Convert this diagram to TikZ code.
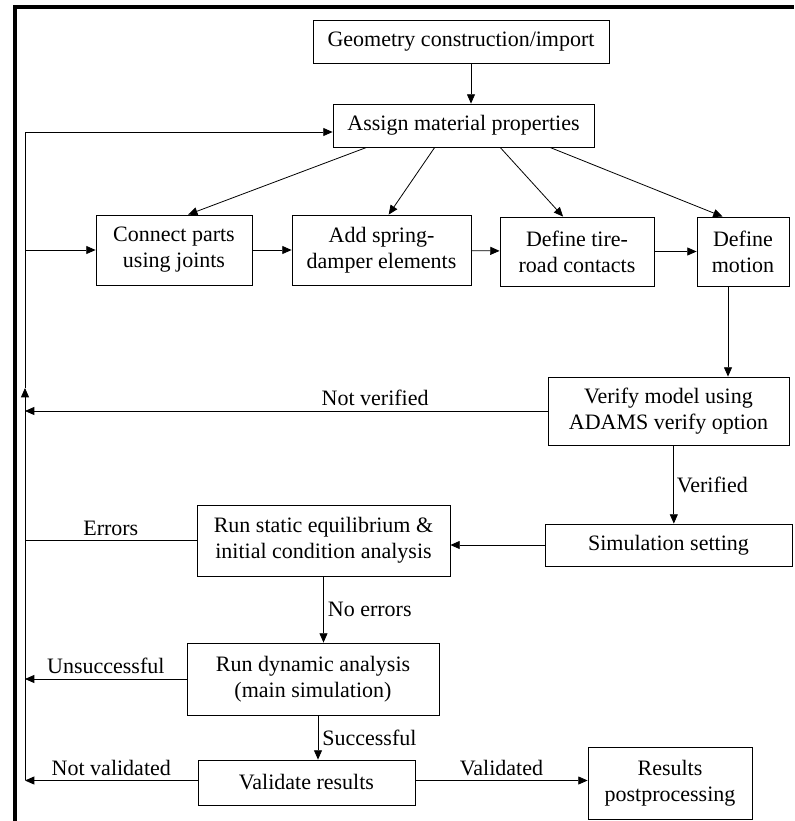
\documentclass[tikz,border=0pt]{standalone}
\usepackage{fontspec}
\setmainfont{Liberation Serif}
\usetikzlibrary{
	arrows.meta,
	calc,
	positioning
}

\begin{document}
\begin{tikzpicture}[x=0.75pt, y=-0.75pt,
		procbox/.style={draw, line width=0.6pt, inner sep=0pt, align=center, font=\fontsize{16.5}{19.5}\selectfont},
		arr/.style={line width=0.6pt, -{Triangle[length=7pt, width=6pt]}},
		lbl/.style={font=\fontsize{16.5}{19.5}\selectfont}
	]
		\useasboundingbox (0,0) rectangle (794,821);
		
		% frame
		\draw[line width=3pt] (15,821) -- (15,7) -- (794,7);
		
		% boxes
		\node[procbox, minimum width=222pt, minimum height=32.25pt] (geo) at (461,42) {Geometry construction/import};
		\node[procbox, minimum width=195.75pt, minimum height=32.25pt] (assign) at (463.5,125.5) {Assign material properties};
		\node[procbox, minimum width=117pt, minimum height=52.5pt] (connect) at (174,250) {Connect parts\\using joints};
		\node[procbox, minimum width=134.25pt, minimum height=52.5pt] (spring) at (381.5,250) {Add spring-\\damper elements};
		\node[procbox, minimum width=115.5pt, minimum height=51.75pt] (tire) at (577,251.5) {Define tire-\\road contacts};
		\node[procbox, minimum width=69pt, minimum height=51.75pt] (motion) at (743,251.5) {Define\\motion};
		\node[procbox, minimum width=180.75pt, minimum height=51pt] (verify) at (668.5,411) {Verify model using\\ADAMS verify option};
		\node[procbox, minimum width=185.25pt, minimum height=31.5pt] (sim) at (668.5,545) {Simulation setting};
		\node[procbox, minimum width=189.75pt, minimum height=53.25pt] (static) at (323.5,540.5) {Run static equilibrium \&\\initial condition analysis};
		\node[procbox, minimum width=189pt, minimum height=54pt] (dynamic) at (313,679) {Run dynamic analysis\\(main simulation)};
		\node[procbox, minimum width=162.75pt, minimum height=33.75pt] (validate) at (306.5,782.5) {Validate results};
		\node[procbox, minimum width=123pt, minimum height=54pt] (post) at (670,783) {Results\\postprocessing};
		
		% return line on the left
		\coordinate (lbot) at (25,780);
		\coordinate (lup) at (25,388);
		\coordinate (ltop) at (25,132);
		
		\draw[arr] ([xshift=7.5pt]geo.south) -- ([xshift=7.5pt]geo.south |- assign.north);
		\draw[arr] ($(assign.south west)!0.13!(assign.south east)$) -- ($(connect.north west)!0.59!(connect.north east)$);
		\draw[arr] ($(assign.south west)!0.39!(assign.south east)$) -- ($(spring.north west)!0.54!(spring.north east)$);
		\draw[arr] ($(assign.south west)!0.64!(assign.south east)$) -- ($(tire.north west)!0.41!(tire.north east)$);
		\draw[arr] ($(assign.south west)!0.83!(assign.south east)$) -- ($(motion.north west)!0.28!(motion.north east)$);
		
		\draw[arr] (connect) -- (spring);
		\draw[arr] (spring) -- (tire);
		\draw[arr] (tire) -- (motion);
		\draw[arr] ([xshift=-11.25pt]motion.south) -- ([xshift=-11.25pt]motion.south |- verify.north);
		\draw[arr] ([xshift=4pt]verify.south) -- ([xshift=4pt]verify.south |- sim.north) node[lbl, midway, right, inner sep=2pt] {Verified};
		\draw[arr] (sim.west) -- (sim.west -| static.east);
		\draw[arr] (static.south) -- (static.south |- dynamic.north) node[lbl, midway, right, inner sep=3pt] {No errors};
		\draw[arr] ([xshift=3.75pt]dynamic.south) -- ([xshift=3.75pt]dynamic.south |- validate.north) node[lbl, midway, right, inner sep=3pt] {Successful};
		\draw[arr] ([yshift=1.5pt]validate.east) -- ([yshift=1.5pt]validate.east -| post.west) node[lbl, midway, above] {Validated};
		
		\draw[arr] (verify.west) -- (verify.west -| lbot) node[lbl, pos=0.33, above] {Not verified};
		\draw (static.west) -- (static.west -| lbot) node[lbl, midway, above] {Errors};
		\draw[arr] (dynamic.west) -- (dynamic.west -| lbot) node[lbl, midway, above] {Unsuccessful};
		\draw[arr] ([yshift=1.5pt]validate.west) -- ([yshift=1.5pt]validate.west -| lbot) node[lbl, midway, above] {Not validated};
		
		\draw[arr] (lbot) -- (lup);
		\draw[arr] (lup) -- (ltop) -- (ltop -| assign.west);
		\draw[arr] (connect.west -| lbot) -- (connect.west);
	\end{tikzpicture}
\end{document}
